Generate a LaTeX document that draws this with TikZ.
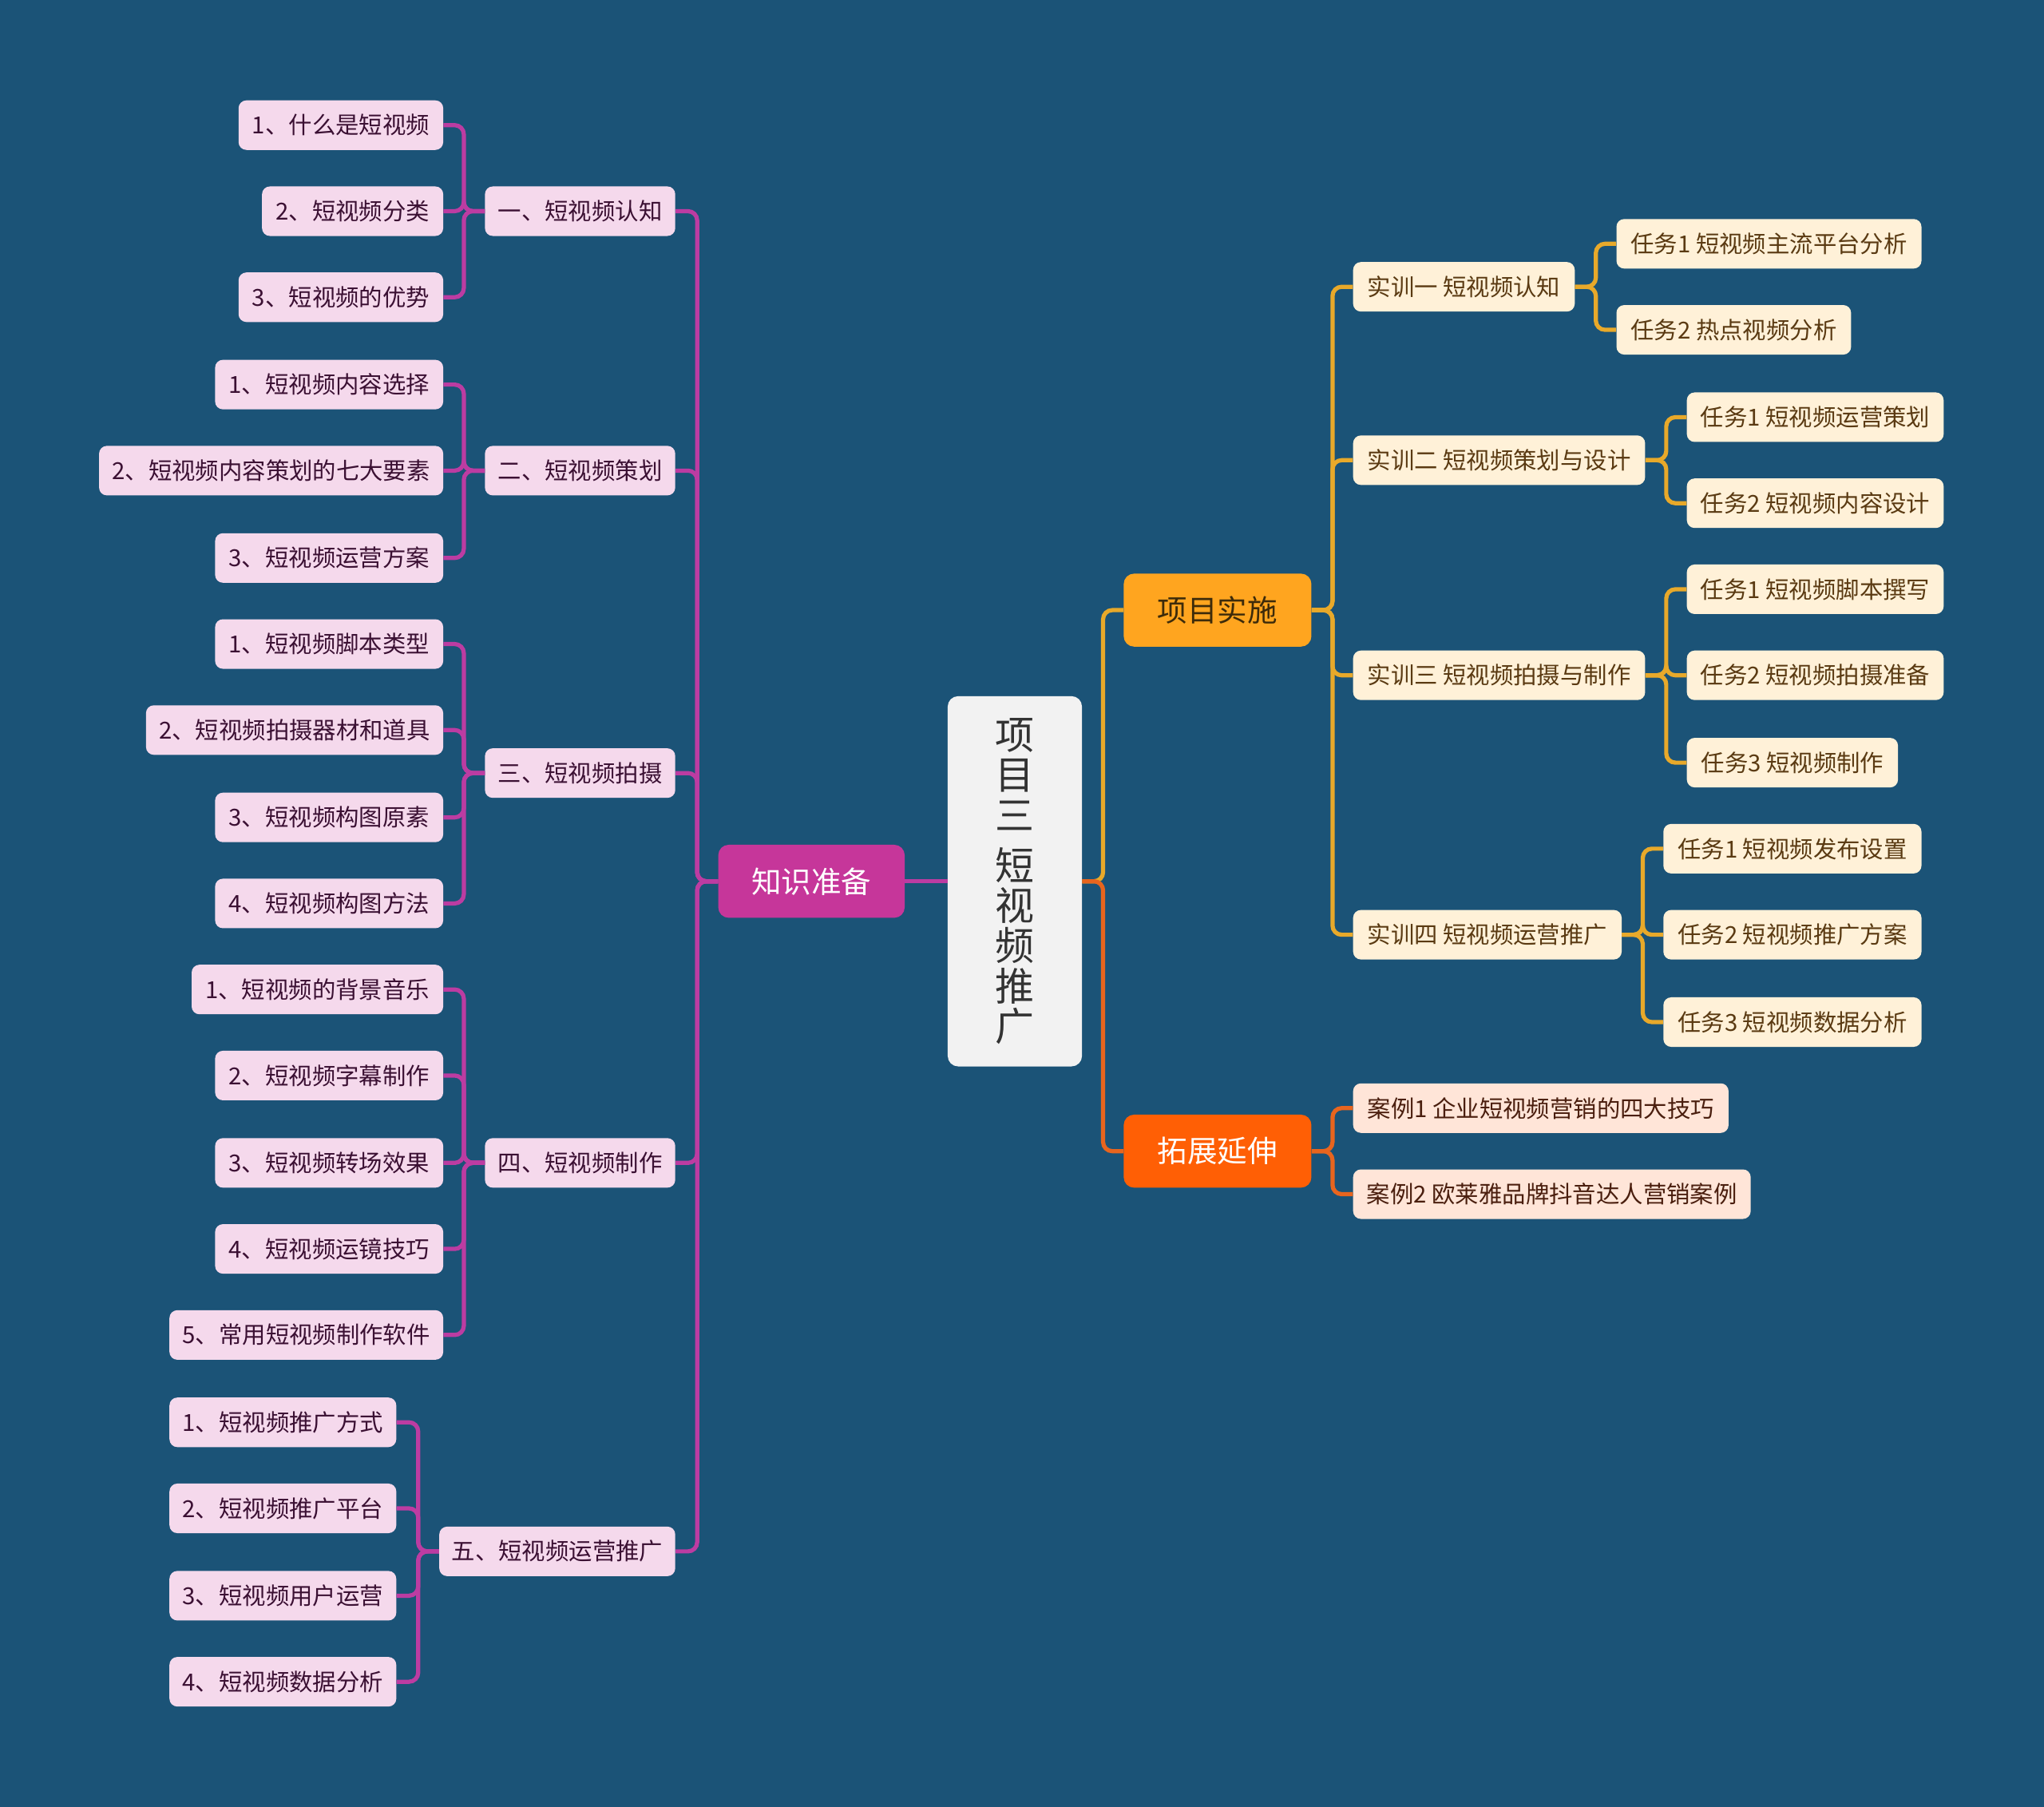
\documentclass[tikz,border=0pt]{standalone}
\usepackage{fontspec}
\setmainfont{Noto Sans CJK SC}
\definecolor{bg}{HTML}{1B5377}
\definecolor{pinkfill}{HTML}{F5D9EC}
\definecolor{pinktext}{HTML}{3B1033}
\definecolor{magline}{HTML}{BC3CA2}
\definecolor{magfill}{HTML}{C6369A}
\definecolor{goldline}{HTML}{E8A92A}
\definecolor{goldfill}{HTML}{FFA51F}
\definecolor{goldtext}{HTML}{3D2B0A}
\definecolor{creamfill}{HTML}{FFF1D8}
\definecolor{creamtext}{HTML}{5A3A12}
\definecolor{orline}{HTML}{E8651E}
\definecolor{orfill}{HTML}{FF5F05}
\definecolor{peachfill}{HTML}{FFE5D8}
\definecolor{peachtext}{HTML}{4A1E0E}
\definecolor{centerfill}{HTML}{F2F2F2}
\definecolor{centertext}{HTML}{333333}
\tikzset{
  box/.style={rectangle, rounded corners=6, minimum height=38, inner sep=0, font=\fontsize{18}{22}\selectfont},
  leafL/.style={box, fill=pinkfill, text=pinktext},
  leafR/.style={box, fill=creamfill, text=creamtext},
  leafO/.style={box, fill=peachfill, text=peachtext},
  bigbox/.style={rectangle, rounded corners=8, minimum height=56, minimum width=144, inner sep=0, font=\fontsize{23}{27}\selectfont},
  conM/.style={draw=magline, line width=3.2, rounded corners=7},
  conG/.style={draw=goldline, line width=3.2, rounded corners=7},
  conO/.style={draw=orline, line width=3.2, rounded corners=7},
}
\begin{document}
\begin{tikzpicture}[x=1pt,y=-1pt]
\fill[bg] (0,0) rectangle (1568,1386);
\useasboundingbox (0,0) rectangle (1568,1386);

% centre
\node[rectangle, rounded corners=8, fill=centerfill, text=centertext, minimum width=103, minimum height=284, inner sep=0, align=center, font=\fontsize{30}{30.8}\selectfont] (ct) at (778.5,676) {项\\目\\三\\[8pt]短\\视\\频\\推\\广};

% main branches
\node[bigbox, fill=magfill, text=white, minimum width=143] (kp) at (622.5,676) {知识准备};
\node[bigbox, fill=goldfill, text=goldtext] (xm) at (934,468) {项目实施};
\node[bigbox, fill=orfill, text=white] (tz) at (934,883) {拓展延伸};

% left groups
\node[leafL, minimum width=146] (g1) at (445,162) {一、短视频认知};
\node[leafL, minimum width=146] (g2) at (445,361) {二、短视频策划};
\node[leafL, minimum width=146] (g3) at (445,593) {三、短视频拍摄};
\node[leafL, minimum width=146] (g4) at (445,892) {四、短视频制作};
\node[leafL, minimum width=181] (g5) at (427.5,1190) {五、短视频运营推广};

\node[leafL, minimum width=157] (a1) at (261.5,96) {1、什么是短视频};
\node[leafL, minimum width=139] (a2) at (270.5,162) {2、短视频分类};
\node[leafL, minimum width=157] (a3) at (261.5,228) {3、短视频的优势};

\node[leafL, minimum width=175] (b1) at (252.5,295) {1、短视频内容选择};
\node[leafL, minimum width=264] (b2) at (208,361) {2、短视频内容策划的七大要素};
\node[leafL, minimum width=175] (b3) at (252.5,428) {3、短视频运营方案};

\node[leafL, minimum width=175] (c1) at (252.5,494) {1、短视频脚本类型};
\node[leafL, minimum width=228] (c2) at (226,560) {2、短视频拍摄器材和道具};
\node[leafL, minimum width=175] (c3) at (252.5,627) {3、短视频构图原素};
\node[leafL, minimum width=175] (c4) at (252.5,693) {4、短视频构图方法};

\node[leafL, minimum width=193] (d1) at (243.5,759) {1、短视频的背景音乐};
\node[leafL, minimum width=175] (d2) at (252.5,825) {2、短视频字幕制作};
\node[leafL, minimum width=175] (d3) at (252.5,892) {3、短视频转场效果};
\node[leafL, minimum width=175] (d4) at (252.5,958) {4、短视频运镜技巧};
\node[leafL, minimum width=210] (d5) at (235,1024) {5、常用短视频制作软件};

\node[leafL, minimum width=174] (e1) at (217,1091) {1、短视频推广方式};
\node[leafL, minimum width=174] (e2) at (217,1157) {2、短视频推广平台};
\node[leafL, minimum width=174] (e3) at (217,1224) {3、短视频用户运营};
\node[leafL, minimum width=174] (e4) at (217,1290) {4、短视频数据分析};

% right groups
\node[leafR, minimum width=170] (s1) at (1123,220) {实训一 短视频认知};
\node[leafR, minimum width=224] (s2) at (1150,353) {实训二 短视频策划与设计};
\node[leafR, minimum width=224] (s3) at (1150,518) {实训三 短视频拍摄与制作};
\node[leafR, minimum width=206] (s4) at (1141,717) {实训四 短视频运营推广};

\node[leafR, minimum width=234] (t11) at (1357,187) {任务1 短视频主流平台分析};
\node[leafR, minimum width=180] (t12) at (1330,253) {任务2 热点视频分析};
\node[leafR, minimum width=197] (t21) at (1392.5,320) {任务1 短视频运营策划};
\node[leafR, minimum width=197] (t22) at (1392.5,386) {任务2 短视频内容设计};
\node[leafR, minimum width=197] (t31) at (1392.5,452) {任务1 短视频脚本撰写};
\node[leafR, minimum width=197] (t32) at (1392.5,518) {任务2 短视频拍摄准备};
\node[leafR, minimum width=162] (t33) at (1375,585) {任务3 短视频制作};
\node[leafR, minimum width=198] (t41) at (1375,651) {任务1 短视频发布设置};
\node[leafR, minimum width=198] (t42) at (1375,717) {任务2 短视频推广方案};
\node[leafR, minimum width=198] (t43) at (1375,784) {任务3 短视频数据分析};

\node[leafO, minimum width=288] (k1) at (1182,850) {案例1 企业短视频营销的四大技巧};
\node[leafO, minimum width=305] (k2) at (1190.5,916) {案例2 欧莱雅品牌抖音达人营销案例};

% connectors left
\draw[conM] (ct.west) -- (kp.east);
\foreach \g in {g1,g2,g3,g4,g5} \draw[conM] (kp.west) -- ++(-16,0) |- (\g.east);
\foreach \c in {a1,a2,a3} \draw[conM] (g1.west) -- ++(-16,0) |- (\c.east);
\foreach \c in {b1,b2,b3} \draw[conM] (g2.west) -- ++(-16,0) |- (\c.east);
\foreach \c in {c1,c2,c3,c4} \draw[conM] (g3.west) -- ++(-16,0) |- (\c.east);
\foreach \c in {d1,d2,d3,d4,d5} \draw[conM] (g4.west) -- ++(-16,0) |- (\c.east);
\foreach \c in {e1,e2,e3,e4} \draw[conM] (g5.west) -- ++(-16,0) |- (\c.east);

% connectors right
\draw[conG] (ct.east) -- ++(16,0) |- (xm.west);
\draw[conO] (ct.east) -- ++(16,0) |- (tz.west);
\foreach \s in {s1,s2,s3,s4} \draw[conG] (xm.east) -- ++(16,0) |- (\s.west);
\foreach \t in {t11,t12} \draw[conG] (s1.east) -- ++(16,0) |- (\t.west);
\foreach \t in {t21,t22} \draw[conG] (s2.east) -- ++(16,0) |- (\t.west);
\foreach \t in {t31,t32,t33} \draw[conG] (s3.east) -- ++(16,0) |- (\t.west);
\foreach \t in {t41,t42,t43} \draw[conG] (s4.east) -- ++(16,0) |- (\t.west);
\foreach \k in {k1,k2} \draw[conO] (tz.east) -- ++(16,0) |- (\k.west);
\end{tikzpicture}
\end{document}
